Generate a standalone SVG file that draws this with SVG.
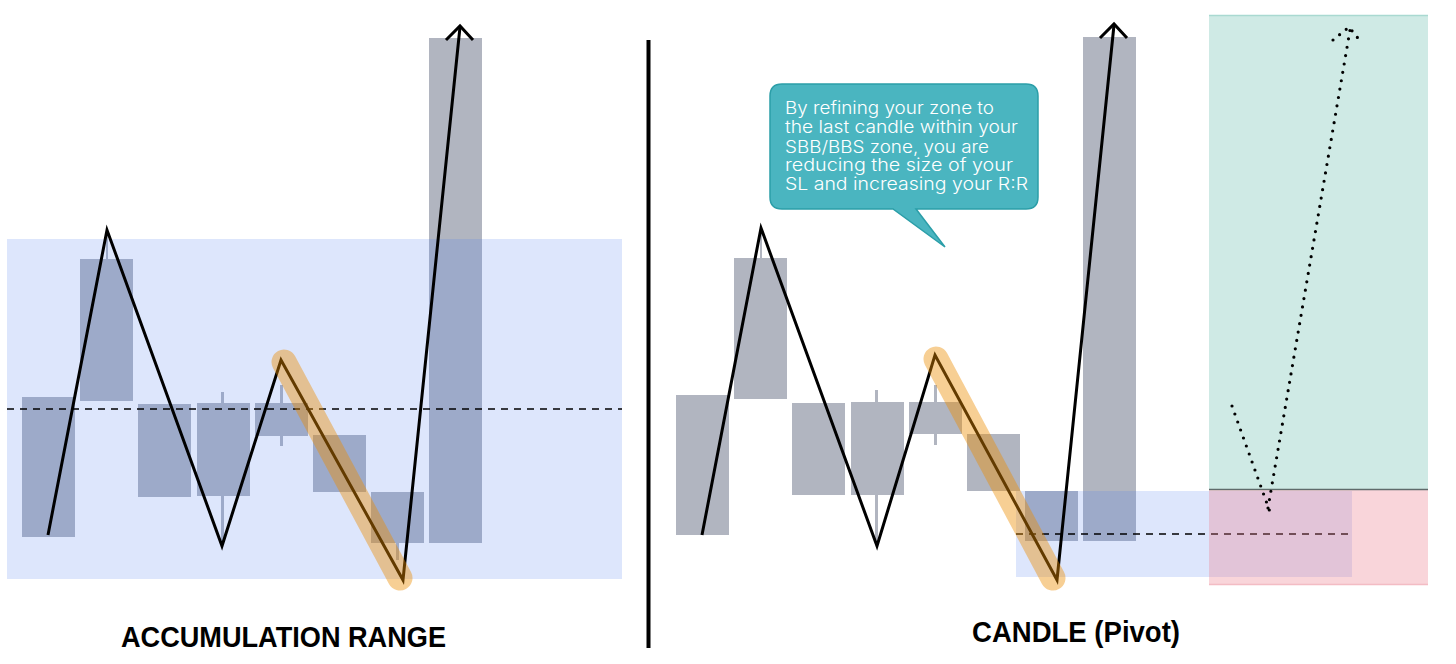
<svg xmlns="http://www.w3.org/2000/svg" width="1456" height="664" viewBox="0 0 1456 664">
<style>
.candle{fill:#b1b5c0}
.zone{fill:rgb(76,124,239);fill-opacity:0.19}
.zig{fill:none;stroke:#000;stroke-width:3;stroke-linejoin:miter}
.hl{fill:none;stroke:rgb(236,140,0);stroke-opacity:0.42;stroke-width:25;stroke-linecap:round}
.dash{stroke:#000;stroke-width:1.6;stroke-dasharray:7 6;fill:none}
.title{font-family:"Liberation Sans",Arial,sans-serif;font-weight:bold;font-size:29px;fill:#000}
.note{font-family:Inter,"Liberation Sans",Arial,sans-serif;font-size:17px;font-weight:300;fill:#fff}
.dots{fill:none;stroke:#000;stroke-width:3.2;stroke-linecap:round;stroke-dasharray:0 8.5}
</style>
<rect width="1456" height="664" fill="#fff"/>

<g id="left-candles">
<rect class="candle" x="22" y="397" width="53" height="140"/>
<rect class="candle" x="106" y="230" width="2" height="30"/>
<rect class="candle" x="80" y="259" width="53" height="142"/>
<rect class="candle" x="138" y="404" width="53" height="93"/>
<rect class="candle" x="221" y="392" width="3" height="153"/>
<rect class="candle" x="197" y="403" width="53" height="93"/>
<rect class="candle" x="280" y="385" width="3" height="61"/>
<rect class="candle" x="255" y="403" width="53" height="33"/>
<rect class="candle" x="313" y="435" width="53" height="57"/>
<rect class="candle" x="396" y="540" width="3" height="20"/>
<rect class="candle" x="371" y="492" width="53" height="51"/>
<rect class="candle" x="429" y="38" width="53" height="505"/>
</g>

<g id="left-zone">
<rect class="zone" x="7" y="239" width="615" height="340"/>
<line class="dash" x1="7" y1="409" x2="622" y2="409"/>
</g>

<g id="right-candles">
<rect class="candle" x="676" y="395" width="53" height="140"/>
<rect class="candle" x="760" y="228" width="2" height="31"/>
<rect class="candle" x="734" y="258" width="53" height="141"/>
<rect class="candle" x="792" y="403" width="53" height="92"/>
<rect class="candle" x="875" y="390" width="3" height="155"/>
<rect class="candle" x="851" y="402" width="53" height="93"/>
<rect class="candle" x="934" y="385" width="3" height="60"/>
<rect class="candle" x="909" y="402" width="53" height="32"/>
<rect class="candle" x="967" y="434" width="53" height="57"/>
<rect class="candle" x="1025" y="491" width="53" height="50"/>
<rect class="candle" x="1083" y="37" width="53" height="504"/>
</g>

<g id="right-zone">
<rect class="zone" x="1016" y="491" width="336" height="86"/>
<line class="dash" x1="1016" y1="534" x2="1352" y2="534"/>
</g>

<g id="target-zone">
<rect x="1209" y="15" width="219" height="474" fill="#cfeae5"/>
<line x1="1209" y1="15.5" x2="1428" y2="15.5" stroke="#a9d9d1" stroke-width="1.5"/>
<rect x="1209" y="490" width="219" height="95" fill="rgb(236,124,139)" fill-opacity="0.32"/>
<line x1="1209" y1="584.5" x2="1428" y2="584.5" stroke="#f3bcc4" stroke-width="1.5"/>
<line x1="1209" y1="489.5" x2="1428" y2="489.5" stroke="#5f6b6b" stroke-width="1.5"/>
</g>

<g id="connectors">
<polyline class="zig" points="48,535 107,230 222,546 281,360 403,580 460,27"/>
<polyline class="zig" points="446,40 460,26 473,40"/>
<polyline class="zig" points="702,535 761,228 877,546 935,355 1057,580 1114,25"/>
<polyline class="zig" points="1100,38 1114,24 1127,38"/>
<line class="hl" x1="284" y1="362" x2="400" y2="578"/>
<line class="hl" x1="936" y1="359" x2="1053" y2="578"/>
<path class="dots" d="M1232,406 L1270,512"/>
<path class="dots" d="M1268,508 L1350,30"/>
<path class="dots" d="M1333,40 L1349,27 L1361,42"/>
</g>

<g id="divider">
<line x1="648.5" y1="40" x2="648.5" y2="648" stroke="#000" stroke-width="4"/>
</g>

<g id="callout">
<path d="M782,84 H1026 Q1038,84 1038,96 V197 Q1038,209 1026,209 H916 L945,247 L893,209 H782 Q770,209 770,197 V96 Q770,84 782,84 Z" fill="#4ab5c0" stroke="#2b9ea8" stroke-width="1.5"/>
<text class="note" x="785" y="114" textLength="209" lengthAdjust="spacingAndGlyphs">By refining your zone to</text>
<text class="note" x="785" y="133" textLength="233" lengthAdjust="spacingAndGlyphs">the last candle within your</text>
<text class="note" x="785" y="152.5" textLength="204" lengthAdjust="spacingAndGlyphs">SBB/BBS zone, you are</text>
<text class="note" x="785" y="171" textLength="228" lengthAdjust="spacingAndGlyphs">reducing the size of your</text>
<text class="note" x="785" y="190" textLength="243" lengthAdjust="spacingAndGlyphs">SL and increasing your R:R</text>
</g>

<g id="label-left">
<text class="title" x="121" y="647" textLength="325" lengthAdjust="spacingAndGlyphs">ACCUMULATION RANGE</text>
</g>
<g id="label-right">
<text class="title" x="972" y="642" textLength="208" lengthAdjust="spacingAndGlyphs">CANDLE (Pivot)</text>
</g>
</svg>
